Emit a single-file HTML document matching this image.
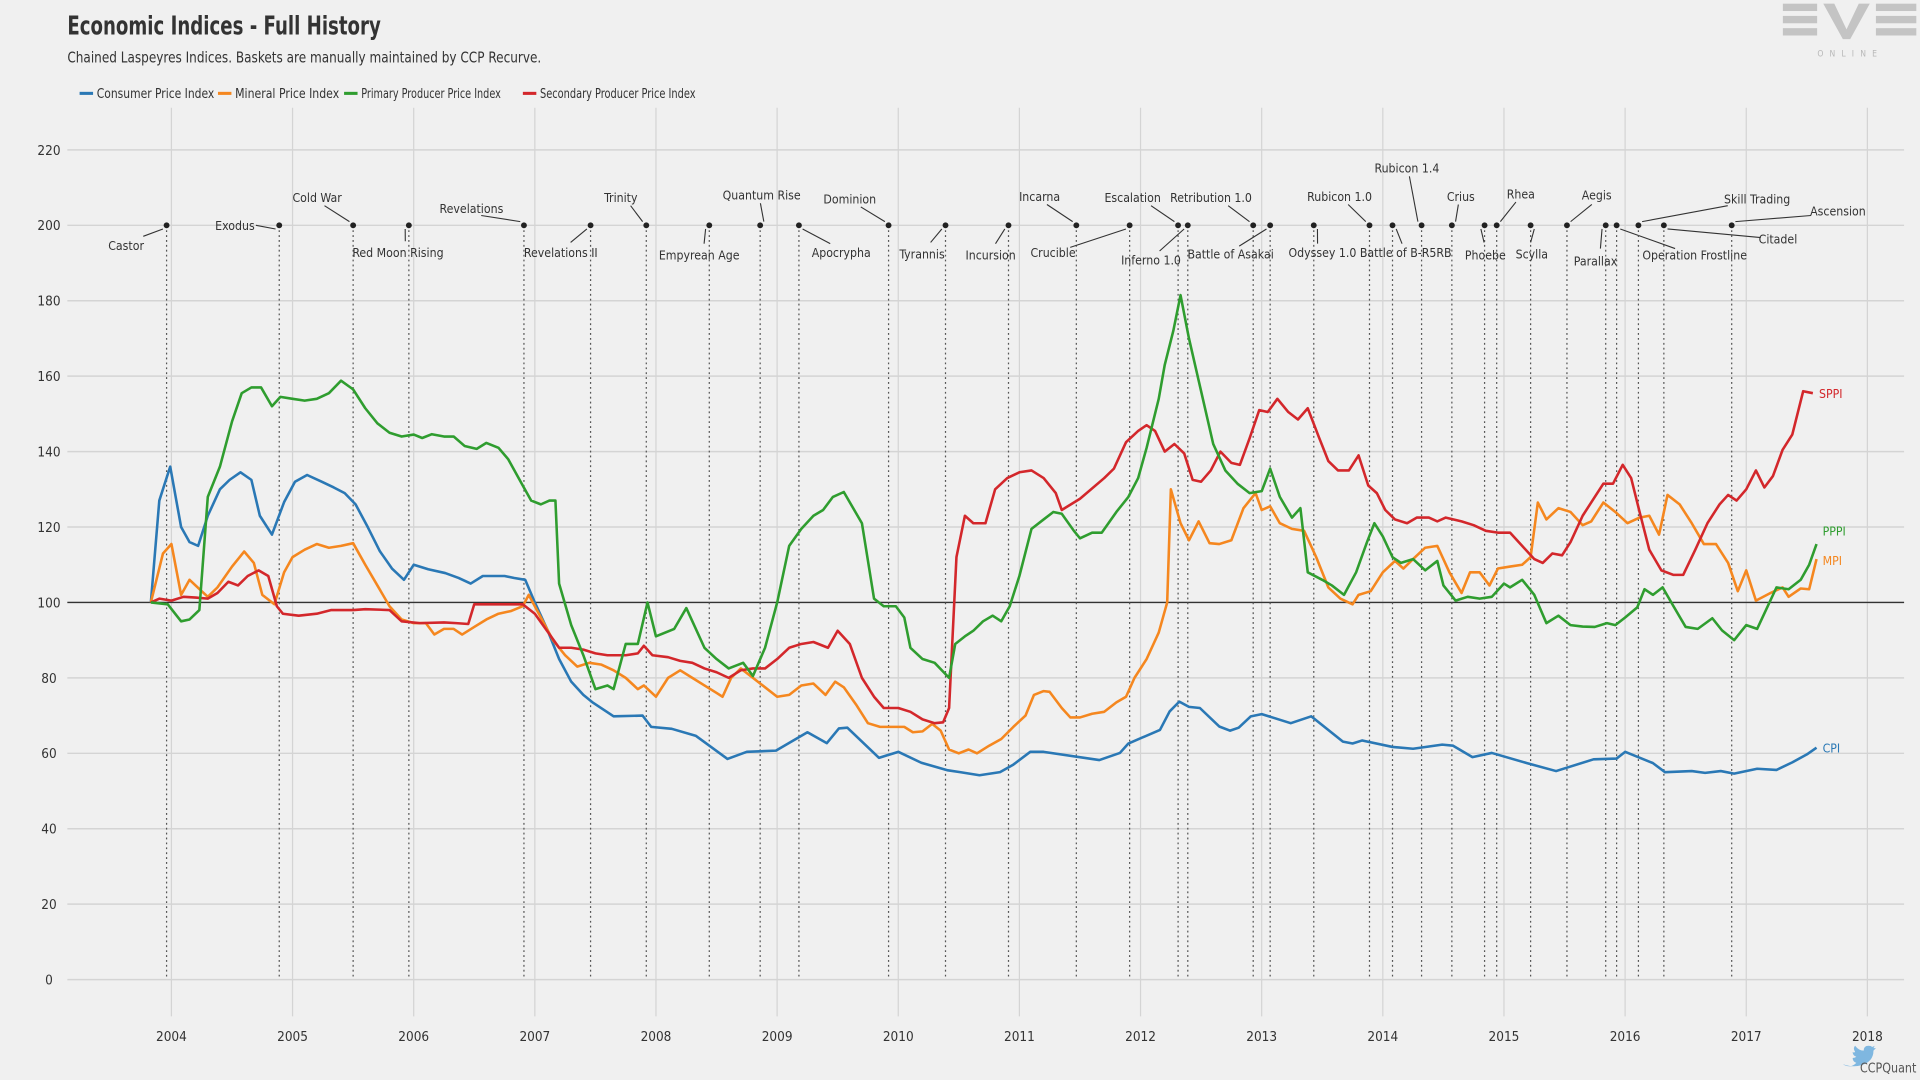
<!DOCTYPE html>
<html><head><meta charset="utf-8"><title>Economic Indices - Full History</title>
<style>
html,body{margin:0;padding:0;background:#f0f0f0;}
svg{display:block;}
text{font-family:"Liberation Sans Narrow","DejaVu Sans Condensed","Liberation Sans",sans-serif;}
</style></head>
<body>
<svg id="chart" width="1920" height="1080" viewBox="0 0 1568 882" xmlns="http://www.w3.org/2000/svg">
<rect x="0" y="0" width="1568" height="882" fill="#f0f0f0"/>
<text x="55" y="28" font-size="21" font-weight="bold" fill="#333" textLength="256" lengthAdjust="spacingAndGlyphs">Economic Indices - Full History</text>
<text x="55" y="51" font-size="12" fill="#333" textLength="387" lengthAdjust="spacingAndGlyphs">Chained Laspeyres Indices. Baskets are manually maintained by CCP Recurve.</text>
<g id="legend"></g>
<g id="grid"></g>
<g id="releases"></g>
<g id="series"></g>
<g fill="#c4c4c4">
<rect x="1456" y="3" width="28" height="6"/><rect x="1456" y="13" width="28" height="6"/><rect x="1456" y="23" width="28" height="6"/>
<polygon points="1489,3 1498,3 1508,24 1518,3 1527,3 1511,32 1505,32"/>
<rect x="1532" y="3" width="33" height="6"/><rect x="1532" y="13" width="33" height="6"/><rect x="1532" y="23" width="33" height="6"/>
<text x="1511" y="46" font-size="7" fill="#b8b8b8" text-anchor="middle" letter-spacing="5">ONLINE</text>
</g>
<g>
<path d="M1505 869 q6 4 11 -1 q-3 -1 -3 -4 q2 0 3 -1 q-3 -1 -3 -4 q1 1 2 0 q-2 -3 0 -5 q3 4 7 4 q0 -4 4 -4 q2 0 3 1 l2 -1 l-1 2 l2 0 l-2 2 q0 9 -10 12 q-7 2 -15 -1z" fill="#7fb7e0"/>
<text x="1519" y="876" font-size="11" fill="#555" textLength="46" lengthAdjust="spacingAndGlyphs">CCPQuant</text>
</g>
</svg>
<script>
// ---- data ----
const yearTicks = [2004,2005,2006,2007,2008,2009,2010,2011,2012,2013,2014,2015,2016,2017,2018];
const valueTicks = [0,20,40,60,80,100,120,140,160,180,200,220];
const seriesNames = ["Consumer Price Index","Mineral Price Index","Primary Producer Price Index","Secondary Producer Price Index"];
const seriesShort = ["CPI","MPI","PPPI","SPPI"];

const cpiDates = [2003.83,2003.9,2003.99,2004.08,2004.15,2004.22,2004.3,2004.4,2004.48,2004.57,2004.66,2004.73,2004.83,2004.93,2005.02,2005.12,2005.24,2005.34,2005.43,2005.52,2005.62,2005.72,2005.82,2005.92,2006.0,2006.12,2006.26,2006.37,2006.47,2006.57,2006.75,2006.83,2006.92,2007.0,2007.1,2007.2,2007.3,2007.4,2007.48,2007.65,2007.89,2007.96,2008.13,2008.33,2008.59,2008.75,2008.99,2009.25,2009.41,2009.51,2009.58,2009.84,2010.0,2010.19,2010.41,2010.51,2010.67,2010.84,2010.95,2011.09,2011.2,2011.66,2011.83,2011.9,2012.16,2012.24,2012.32,2012.4,2012.49,2012.65,2012.74,2012.81,2012.91,2013.0,2013.24,2013.41,2013.67,2013.75,2013.83,2014.08,2014.25,2014.49,2014.58,2014.74,2014.9,2015.19,2015.43,2015.74,2015.93,2016.0,2016.23,2016.33,2016.55,2016.66,2016.79,2016.9,2017.09,2017.25,2017.38,2017.5,2017.58];
const cpiValues = [100,127,136,120,116,115,123,130,132.5,134.5,132.5,123,118,126.6,132,133.8,132,130.5,129,126,120,113.6,109,106,110,108.8,107.8,106.5,105,107,107,106.5,106,100,93,85,79,75.5,73.4,69.8,70,67,66.5,64.6,58.5,60.4,60.7,65.6,62.7,66.6,66.8,58.8,60.4,57.5,55.5,55,54.2,55,57,60.4,60.4,58.2,60.1,62.6,66.2,71.1,73.7,72.3,72,67.1,66,66.8,69.8,70.4,68,69.8,63.1,62.6,63.4,61.7,61.2,62.3,62,59,60.1,57.4,55.3,58.4,58.6,60.4,57.4,55,55.3,54.8,55.3,54.6,55.9,55.6,57.6,59.7,61.5];

const mpiDates = [2003.83,2003.93,2004.0,2004.08,2004.15,2004.25,2004.3,2004.38,2004.5,2004.6,2004.68,2004.75,2004.85,2004.93,2005.0,2005.1,2005.2,2005.3,2005.4,2005.5,2005.6,2005.7,2005.8,2005.9,2006.0,2006.1,2006.17,2006.25,2006.33,2006.4,2006.5,2006.6,2006.7,2006.8,2006.9,2006.95,2007.05,2007.15,2007.25,2007.35,2007.45,2007.55,2007.65,2007.75,2007.85,2007.9,2008.0,2008.1,2008.2,2008.3,2008.4,2008.5,2008.55,2008.62,2008.7,2008.8,2008.9,2009.0,2009.1,2009.2,2009.3,2009.4,2009.48,2009.55,2009.65,2009.75,2009.85,2009.95,2010.05,2010.12,2010.2,2010.28,2010.35,2010.42,2010.5,2010.58,2010.65,2010.75,2010.85,2010.95,2011.05,2011.12,2011.2,2011.25,2011.35,2011.42,2011.5,2011.6,2011.7,2011.8,2011.88,2011.95,2012.05,2012.15,2012.22,2012.25,2012.33,2012.4,2012.48,2012.57,2012.65,2012.75,2012.85,2012.95,2013.0,2013.07,2013.15,2013.25,2013.35,2013.45,2013.55,2013.65,2013.75,2013.8,2013.9,2014.0,2014.1,2014.17,2014.25,2014.35,2014.45,2014.55,2014.65,2014.72,2014.8,2014.88,2014.95,2015.05,2015.15,2015.22,2015.28,2015.35,2015.45,2015.55,2015.65,2015.72,2015.82,2015.92,2016.02,2016.12,2016.2,2016.28,2016.35,2016.45,2016.55,2016.65,2016.75,2016.85,2016.93,2017.0,2017.08,2017.2,2017.3,2017.35,2017.45,2017.52,2017.58];
const mpiValues = [100,113,115.5,102,106,103,101.5,104,109.5,113.5,110.5,102,99.5,108,112,114,115.5,114.5,115,115.7,110,104.5,99,95.5,94.5,94.5,91.5,93,93,91.5,93.5,95.5,97,97.7,99,102,96,90,86,83,84,83.5,82,80,77,78,75,80,82,80,78,76,75,80,82.5,80,77.5,75,75.5,78,78.5,75.5,79,77.5,73,68,67,67,67,65.6,65.8,67.8,66,61,60,61,60,62,63.8,67,70,75.5,76.5,76.3,72,69.5,69.5,70.5,71,73.5,75,80,85,92,100,130,121,116.5,121.5,115.7,115.5,116.5,125,129,124.5,125.5,121,119.5,119,112,104,101,99.5,102,103,108,111,109,111.5,114.5,115,108,102.5,108,108,104.5,109,109.5,110,112,126.5,122,125,124,120.5,121.5,126.5,124,121,122.5,123,118,128.5,126,121,115.5,115.5,110.5,103,108.5,100.5,102.5,104,101.5,103.7,103.5,111.5];

const pppiDates = [2003.83,2003.97,2004.08,2004.15,2004.23,2004.3,2004.4,2004.5,2004.58,2004.66,2004.74,2004.83,2004.9,2005.0,2005.1,2005.2,2005.3,2005.4,2005.5,2005.6,2005.7,2005.8,2005.9,2006.0,2006.07,2006.15,2006.25,2006.33,2006.42,2006.52,2006.6,2006.7,2006.78,2006.9,2006.97,2007.05,2007.12,2007.17,2007.2,2007.3,2007.4,2007.5,2007.6,2007.65,2007.75,2007.85,2007.93,2008.0,2008.15,2008.25,2008.4,2008.5,2008.6,2008.72,2008.8,2008.9,2009.0,2009.1,2009.2,2009.3,2009.38,2009.46,2009.55,2009.7,2009.8,2009.88,2009.98,2010.05,2010.1,2010.2,2010.3,2010.42,2010.47,2010.55,2010.62,2010.7,2010.78,2010.85,2010.92,2011.0,2011.1,2011.2,2011.28,2011.35,2011.45,2011.5,2011.6,2011.68,2011.8,2011.9,2011.98,2012.05,2012.15,2012.2,2012.27,2012.33,2012.4,2012.5,2012.6,2012.7,2012.8,2012.9,2013.0,2013.07,2013.15,2013.25,2013.32,2013.38,2013.5,2013.58,2013.68,2013.78,2013.87,2013.93,2014.0,2014.08,2014.15,2014.25,2014.35,2014.45,2014.5,2014.6,2014.7,2014.8,2014.9,2015.0,2015.05,2015.15,2015.25,2015.35,2015.45,2015.55,2015.65,2015.75,2015.85,2015.92,2016.0,2016.1,2016.16,2016.23,2016.31,2016.4,2016.5,2016.6,2016.72,2016.8,2016.9,2017.0,2017.09,2017.25,2017.35,2017.45,2017.52,2017.58];
const pppiValues = [100,99.5,95,95.5,98,128,136,148,155.5,157,157,152,154.5,154,153.5,154,155.5,158.8,156.5,151.5,147.5,145,144,144.5,143.6,144.6,144,144,141.5,140.7,142.3,141,138,131,127,126,127,127,105,94,86,77,78,77,89,89,100,91,93,98.5,88,85,82.5,84,80.5,88,100,115,119.5,123,124.5,128,129.3,121,101,99,99,96,88,85,84,80,89,91,92.5,95,96.5,95,99,107,119.5,122,124,123.5,119,117,118.5,118.5,124,128,133,141,154,163,172,181.5,170,156,142,135,131.5,129,129.5,135.5,128,122.5,125,108,106,104.5,102,108,116,121,117.5,112,110.5,111.5,108.5,111,104.5,100.5,101.5,101,101.5,105,104,106,102,94.5,96.5,94,93.6,93.5,94.5,94,96,98.7,103.5,102,104,99,93.5,93,95.8,92.6,90,94,93,104,103.5,106,110,115.5];

const sppiDates = [2003.83,2003.9,2004.0,2004.1,2004.2,2004.3,2004.38,2004.47,2004.55,2004.63,2004.72,2004.8,2004.87,2004.92,2005.05,2005.2,2005.32,2005.5,2005.6,2005.8,2005.9,2006.05,2006.25,2006.35,2006.45,2006.5,2006.9,2007.0,2007.1,2007.2,2007.3,2007.4,2007.5,2007.6,2007.75,2007.85,2007.9,2007.97,2008.1,2008.2,2008.3,2008.4,2008.5,2008.6,2008.7,2008.8,2008.9,2009.0,2009.1,2009.2,2009.3,2009.42,2009.5,2009.6,2009.7,2009.8,2009.88,2010.0,2010.1,2010.2,2010.3,2010.37,2010.42,2010.48,2010.55,2010.62,2010.72,2010.8,2010.9,2011.0,2011.1,2011.2,2011.3,2011.35,2011.5,2011.7,2011.78,2011.88,2011.98,2012.05,2012.12,2012.2,2012.28,2012.36,2012.43,2012.5,2012.58,2012.66,2012.75,2012.82,2012.9,2012.98,2013.05,2013.13,2013.22,2013.3,2013.38,2013.47,2013.55,2013.63,2013.72,2013.8,2013.88,2013.95,2014.02,2014.1,2014.2,2014.28,2014.38,2014.45,2014.52,2014.65,2014.75,2014.85,2014.95,2015.05,2015.15,2015.25,2015.32,2015.4,2015.48,2015.55,2015.65,2015.75,2015.82,2015.9,2015.98,2016.05,2016.12,2016.2,2016.3,2016.4,2016.48,2016.58,2016.68,2016.78,2016.85,2016.92,2017.0,2017.08,2017.15,2017.22,2017.3,2017.38,2017.47,2017.55];
const sppiValues = [100,101,100.5,101.5,101.3,101,102.5,105.5,104.5,107,108.5,107,99,97,96.5,97,98,98,98.2,98,95,94.5,94.7,94.5,94.3,99.5,99.5,97,92.5,88,88,87.5,86.5,86,86,86.5,88.5,86,85.5,84.5,84,82.5,81.5,80,82,82.5,82.5,85,88,89,89.5,88,92.5,89,80,75,72,72,71,69,68,68.2,72,112,123,121,121,130,133,134.5,135,133,129,124.5,127.5,133,135.5,142.5,145.5,147,145.5,140,142,139.5,132.5,132,135,140,137,136.5,143.5,151,150.5,154,150.5,148.5,151.5,144,137.5,135,135,139,131,129,124.5,122,121,122.5,122.5,121.5,122.5,121.5,120.5,119,118.5,118.5,115,111.5,110.5,113,112.5,116,123,128,131.5,131.5,136.5,133,124,114,108.5,107.3,107.3,114,121,126,128.5,127,130,135,130.5,133.5,140.5,144.5,156,155.5];

const releaseNames = ["Castor","Exodus","Cold War","Red Moon Rising","Revelations","Revelations II","Trinity","Empyrean Age","Quantum Rise","Apocrypha","Dominion","Tyrannis","Incursion","Incarna","Crucible","Escalation","Inferno 1.0","Retribution 1.0","Battle of Asakai","Odyssey 1.0","Rubicon 1.0","Battle of B-R5RB","Rubicon 1.4","Crius","Phoebe","Rhea","Scylla","Aegis","Parallax","Operation Frostline","Skill Trading","Citadel","Ascension"];
const releaseDates = [2003.96,2004.89,2005.5,2005.96,2006.91,2007.46,2007.92,2008.44,2008.86,2009.18,2009.92,2010.39,2010.91,2011.47,2011.91,2012.31,2012.39,2012.93,2013.07,2013.43,2013.89,2014.08,2014.32,2014.57,2014.84,2014.94,2015.22,2015.52,2015.84,2015.93,2016.11,2016.32,2016.88];
const releaseValue = 200;

// ---- layout (annotation label placement, pixels) ----
const labelPos = [[103,204,'middle',117,193],[208,188,'end',209,184],[259,165,'middle',265,168],[325,210,'middle',331,197],[385,174,'middle',393,176],[458,210,'middle',466,198],[507,165,'middle',515,168],[571,212,'middle',575,199],[622,163,'middle',621,166],[687,210,'middle',678,199],[694,166,'middle',703,169],[753,211,'middle',760,198],[809,212,'middle',813,199],[849,164,'middle',855,167],[860,210,'middle',874,202],[925,165,'middle',940,168],[940,216,'middle',947,205],[989,165,'middle',1003,168],[1005,211,'middle',1012,201],[1080,210,'middle',1076,199],[1094,164,'middle',1101,167],[1148,210,'middle',1145,199],[1149,141,'middle',1151,144],[1193,164,'middle',1191,167],[1213,212,'middle',1212,198],[1242,162,'middle',1238,165],[1251,211,'middle',1250,198],[1304,163,'middle',1300,167],[1303,217,'middle',1307,203],[1384,212,'middle',1368,203],[1435,166,'middle',1411,168],[1452,199,'middle',1438,194],[1501,176,'middle',1479,176]];

const NS = "http://www.w3.org/2000/svg";
const X0 = 140, XPY = 98.93, Y0 = 800, YPV = 3.08;
function xs(yr){ return X0 + (yr - 2004) * XPY; }
function ys(v){ return Y0 - v * YPV; }
function mk(tag, attrs, parent){ const e = document.createElementNS(NS, tag); for (const k in attrs) e.setAttribute(k, attrs[k]); parent.appendChild(e); return e; }

const grid = document.getElementById('grid');
valueTicks.forEach(v => {
  const l = mk('line', {x1:55, x2:1555, y1:ys(v), y2:ys(v), stroke:'#d4d4d4', 'stroke-width':1.2}, grid);
  
  
  const t = mk('text', {x:40, y:ys(v)+4, 'font-size':11, 'text-anchor':'middle', fill:'#333'}, grid);
  t.textContent = v;
  
  
});
yearTicks.forEach(yr => {
  const l = mk('line', {x1:xs(yr), x2:xs(yr), y1:88, y2:830, stroke:'#d4d4d4', 'stroke-width':1}, grid);
  
  
  const t = mk('text', {x:xs(yr), y:850, 'font-size':11, 'text-anchor':'middle', fill:'#333'}, grid);
  t.textContent = yr;
  
  
});
const base = mk('line', {x1:55, x2:1555, y1:ys(100), y2:ys(100), stroke:'#333', 'stroke-width':1.2}, grid);



const rel = document.getElementById('releases');
releaseNames.forEach((n, i) => {
  const x = xs(releaseDates[i]), y = ys(releaseValue);
  const vl = mk('line', {x1:x, x2:x, y1:y, y2:ys(0), stroke:'#555', 'stroke-width':1, 'stroke-dasharray':'1.5,2.5'}, rel);
  
  
  const d = mk('circle', {cx:x, cy:y, r:2.4, fill:'#222'}, rel);
  
  
  const p = labelPos[i];
  const ld = mk('line', {x1:p[3], y1:p[4], x2:x + (p[3] < x ? -3 : (p[3] > x ? 3 : 0)), y2:y + (p[4] < y ? -3 : 3), stroke:'#333', 'stroke-width':0.9}, rel);
  
  
  const t = mk('text', {x:p[0], y:p[1], 'font-size':10, 'text-anchor':p[2], fill:'#333'}, rel);
  t.textContent = n;
  
  
});

const colors = ['#2a78b5','#f5871f','#2f9d2f','#d3272b'];
const allDates = [cpiDates, mpiDates, pppiDates, sppiDates];
const allValues = [cpiValues, mpiValues, pppiValues, sppiValues];
const endOffsets = [0, 1, -11, 0];
const ser = document.getElementById('series');
const order = [0,1,3,2];
order.forEach(i => {
  const pts = allDates[i].map((d, k) => xs(d).toFixed(1) + ',' + ys(allValues[i][k]).toFixed(1)).join(' ');
  const pl = mk('polyline', {points:pts, fill:'none', stroke:colors[i], 'stroke-width':2.1, 'stroke-linejoin':'round'}, ser);
  
  
  const last = allValues[i].length - 1;
  const t = mk('text', {x:xs(allDates[i][last]) + 5, y:ys(allValues[i][last]) + 4 + endOffsets[i], 'font-size':10, style:'fill:' + colors[i]}, ser);
  t.textContent = seriesShort[i];
  
  
});

const leg = document.getElementById('legend');
const legX = [65, 178, 281, 427];
const legWidths = [110, 99, 128, 141];
seriesNames.forEach((n, i) => {
  const lx = legX[i];
  const sw = mk('rect', {x:lx, y:75, width:11, height:2.5, fill:colors[i]}, leg);
  
  
  const t = mk('text', {x:lx + 14, y:80, 'font-size':11, fill:'#333', textLength:legWidths[i] - 14, lengthAdjust:'spacingAndGlyphs'}, leg);
  t.textContent = n;
  
  
});
</script>
</body></html>
